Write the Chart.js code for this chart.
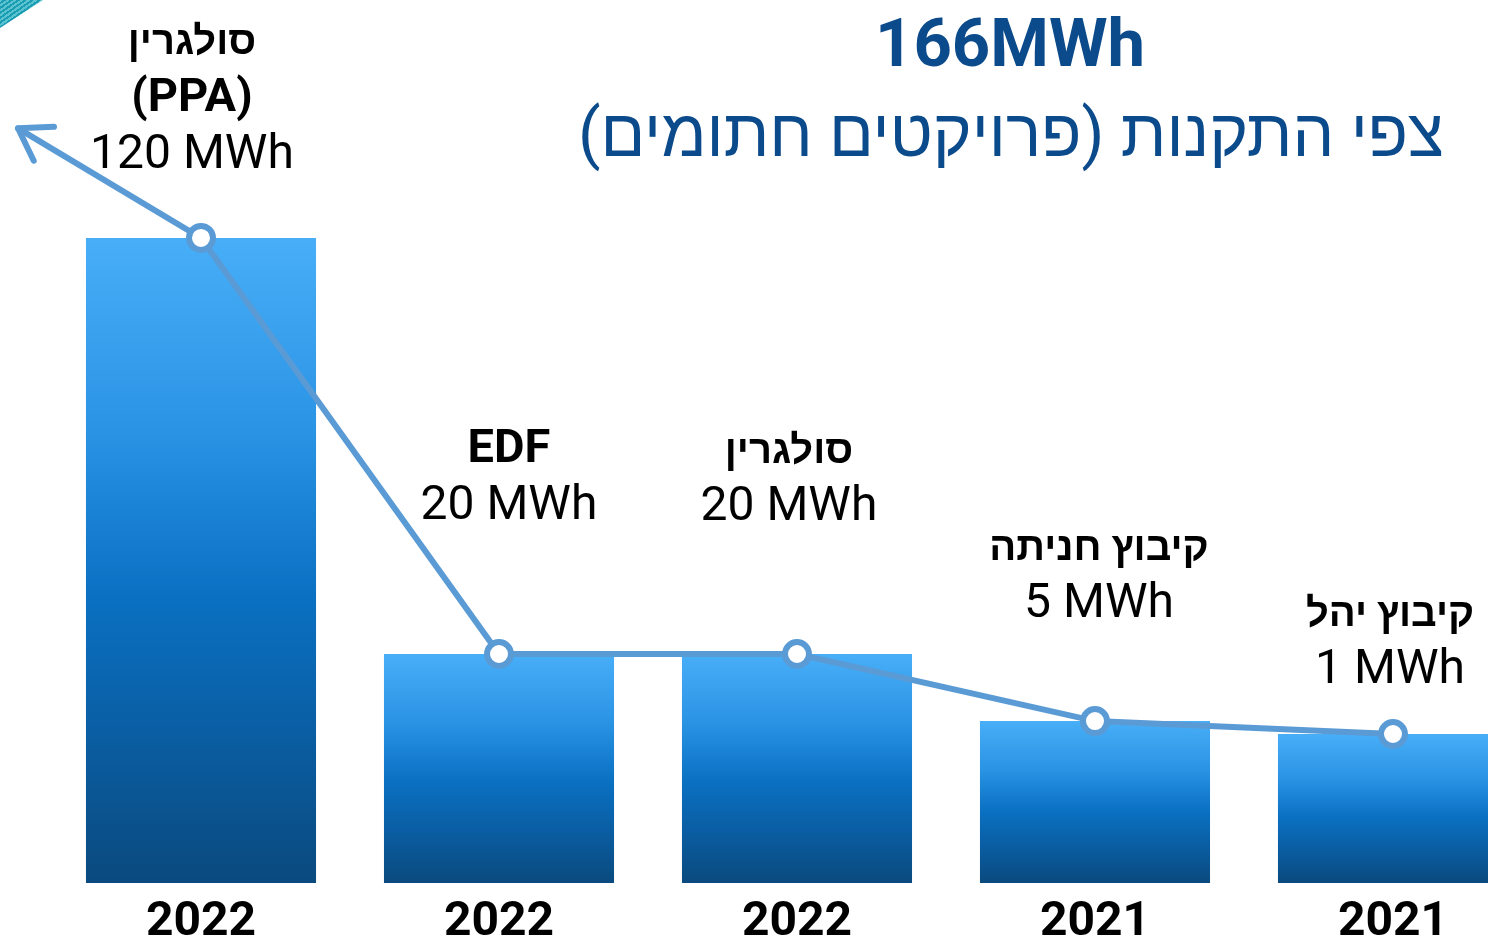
<!DOCTYPE html>
<html>
<head>
<meta charset="utf-8">
<script src="https://cdn.jsdelivr.net/npm/chart.js@4/dist/chart.umd.min.js"></script>
<style>
  html, body { margin: 0; padding: 0; background: #fff; overflow: hidden; }
  #wrap { position: relative; width: 1488px; height: 943px; }
  /* small decoration cut off in the corner of the slide */
  #corner {
    position: absolute; left: 0; top: 0; width: 43px; height: 28px;
    clip-path: polygon(0 0, 100% 0, 0 100%);
    background: repeating-linear-gradient(-35deg, #1a9db2 0 2px, #5cc3d0 2px 4px);
  }
</style>
</head>
<body>
<div id="wrap">
  <canvas id="chart"></canvas>
  <div id="corner"></div>
</div>
<script>
// data
let years = ['2022', '2022', '2022', '2021', '2021'];
let projectNames = [['סולגרין', '(PPA)'], ['EDF'], ['סולגרין'], ['קיבוץ חניתה'], ['קיבוץ יהל']];
let projectMWh = [120, 20, 20, 5, 1];
let barHeights = [100, 35.5, 35.5, 25.1, 23.1];   // bar sizes as drawn on the slide (not to scale with MWh)
let arrowTip = [-0.614, 117];                      // trend line leaves the first bar and ends in an arrow
let totalText = '166MWh';
let subtitleText = 'צפי התקנות (פרויקטים חתומים)';

// layout / style only
const fontFamily = 'Roboto, "Liberation Sans", "DejaVu Sans", sans-serif';
const lineColor = '#5B9BD5';
const titleColor = '#0B4A8B';
const labelLift = [70, 135, 134, 104, 51];   // value-line baseline above the bar top
const labelShift = [-9, 10, -8, 4, -3];
const labelGap = 57;
const hebrew = /[\u0590-\u05FF]/;

Chart.defaults.font.family = fontFamily;

const barPoints = barHeights.map((v, i) => ({ x: i, y: v }));
const linePoints = [{ x: arrowTip[0], y: arrowTip[1] }].concat(barPoints);

// each bar gets its own light-to-dark gradient
function barGradient(ctx) {
  const chart = ctx.chart;
  if (!chart.chartArea || ctx.type !== 'data') return '#1A7FD0';
  const y = chart.scales.y;
  const top = y.getPixelForValue(ctx.raw.y);
  const bottom = y.getPixelForValue(0);
  const g = chart.ctx.createLinearGradient(0, top, 0, bottom);
  g.addColorStop(0, '#48AEF8');
  g.addColorStop(0.3, '#2A93E4');
  g.addColorStop(0.55, '#0A71C3');
  g.addColorStop(0.8, '#0A5B9E');
  g.addColorStop(1, '#0A4A7E');
  return g;
}

function rtl(s) {
  return '\u200F' + s + '\u200F';
}

const slideText = {
  id: 'slideText',
  afterDatasetsDraw(chart) {
    const c = chart.ctx;
    const line = chart.getDatasetMeta(0).data;
    const bars = chart.getDatasetMeta(1).data;

    // arrow head at the end of the trend line
    const tip = line[0], from = line[1];
    const ang = Math.atan2(tip.y - from.y, tip.x - from.x);
    c.save();
    c.strokeStyle = lineColor;
    c.lineWidth = 6;
    c.lineCap = 'round';
    c.beginPath();
    [-1, 1].forEach(s => {
      c.moveTo(tip.x, tip.y);
      c.lineTo(tip.x - 36 * Math.cos(ang + s * 0.58), tip.y - 36 * Math.sin(ang + s * 0.58));
    });
    c.stroke();
    c.restore();

    // project labels above the bars
    c.save();
    c.fillStyle = '#000';
    c.textAlign = 'center';
    c.textBaseline = 'alphabetic';
    bars.forEach((bar, i) => {
      const x = bar.x + labelShift[i];
      let y = bar.y - labelLift[i];
      c.font = '400 48px ' + fontFamily;
      c.fillText(projectMWh[i] + ' MWh', x, y);
      const names = projectNames[i];
      for (let k = names.length - 1; k >= 0; k--) {
        y -= labelGap;
        if (hebrew.test(names[k])) {
          c.font = '700 40px ' + fontFamily;
          c.fillText(rtl(names[k]), x, y);
        } else {
          c.font = '700 47px ' + fontFamily;
          c.fillText(names[k], x, y);
        }
      }
    });

    // headline
    c.fillStyle = titleColor;
    c.font = '700 67px ' + fontFamily;
    c.fillText(totalText, 1010, 66);
    c.font = '400 66px ' + fontFamily;
    c.fillText(rtl(subtitleText), 1011, 156);
    c.restore();
  }
};

new Chart(document.getElementById('chart'), {
  type: 'bar',
  data: {
    datasets: [
      {
        type: 'line',
        data: linePoints,
        borderColor: lineColor,
        borderWidth: 6,
        borderCapStyle: 'round',
        tension: 0,
        pointRadius: ctx => (ctx.dataIndex === 0 ? 0 : 12),
        pointBorderWidth: 6,
        pointBackgroundColor: '#fff',
        pointBorderColor: lineColor,
        clip: false,
        order: 0
      },
      {
        type: 'bar',
        data: barPoints,
        backgroundColor: barGradient,
        categoryPercentage: 1,
        barPercentage: 0.772,
        clip: false,
        order: 1
      }
    ]
  },
  options: {
    responsive: true,
    maintainAspectRatio: false,
    animation: false,
    events: [],
    layout: { padding: 0 },
    plugins: {
      legend: { display: false },
      tooltip: { enabled: false }
    },
    scales: {
      x: {
        type: 'linear',
        bounds: 'data',
        min: -0.6141,
        max: 4.2584,
        offset: false,
        grid: { display: false, drawTicks: true, tickLength: 20 },
        border: { display: false },
        afterBuildTicks: scale => {
          scale.ticks = years.map((y, i) => ({ value: i }));
        },
        ticks: {
          padding: 2,
          color: '#000',
          autoSkip: false,
          maxRotation: 0,
          font: { size: 48, weight: 'bold', lineHeight: 0.75 },
          callback: v => years[v]
        }
      },
      y: { display: false, min: 0, max: 134.1 }
    }
  },
  plugins: [slideText]
});
</script>
</body>
</html>
